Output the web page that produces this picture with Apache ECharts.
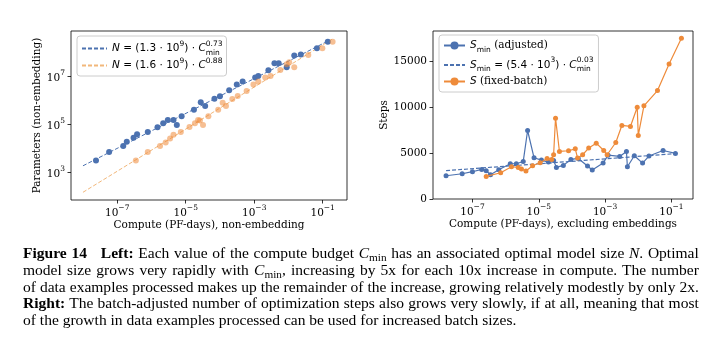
<!DOCTYPE html>
<html><head><meta charset="utf-8">
<script src="https://cdn.jsdelivr.net/npm/echarts@6/dist/echarts.min.js"></script>
<style>
html,body{margin:0;padding:0;background:#fff;}
#chart{position:absolute;left:0;top:0;width:712px;height:343px;}
#cap{position:absolute;left:23px;top:245px;width:631px;transform:scaleX(1.071);transform-origin:0 0;font-family:'Liberation Serif','Times New Roman',serif;font-size:14.5px;line-height:16.8px;color:#000;}
#cap .j{text-align:justify;text-align-last:justify;word-spacing:-1.5px;}
#cap sub{font-size:10.5px;vertical-align:-3px;line-height:0;}
#cap .gap{display:inline-block;width:13px;}
</style>
</head><body>
<div id="chart"></div>
<div id="cap">
<div class="j"><b>Figure 14</b><span class="gap"></span><b>Left:</b> Each value of the compute budget <i>C</i><sub>min</sub> has an associated optimal model size <i>N</i>. Optimal</div>
<div class="j">model size grows very rapidly with <i>C</i><sub>min</sub>, increasing by 5x for each 10x increase in compute. The number</div>
<div class="j">of data examples processed makes up the remainder of the increase, growing relatively modestly by only 2x.</div>
<div class="j"><b>Right:</b> The batch-adjusted number of optimization steps also grows very slowly, if at all, meaning that most</div>
<div>of the growth in data examples processed can be used for increased batch sizes.</div>
</div>
<script>
// ---------- Left panel data: compute (PF-days) vs parameters ----------
const leftBlueC = [2.4e-8,5.8e-8,1.5e-7,1.9e-7,3.0e-7,3.8e-7,7.8e-7,1.5e-6,2.2e-6,3.0e-6,4.4e-6,5.5e-6,7.6e-6,1.74e-5,2.75e-5,3.7e-5,6.9e-5,1.0e-4,1.86e-4,3.1e-4,4.6e-4,1.07e-3,1.32e-3,2.6e-3,3.9e-3,5.2e-3,8.9e-3,1.48e-2,2.3e-2,6.8e-2,0.141];
const leftBlueN = [3.1e3,7.1e3,1.26e4,1.9e4,2.8e4,3.9e4,4.8e4,7.6e4,1.12e5,1.55e5,1.55e5,9.5e4,2.2e5,4.1e5,8.5e5,5.9e5,1.2e6,1.5e6,2.7e6,4.7e6,6.3e6,9.1e6,1.07e7,1.86e7,3.6e7,3.6e7,2.45e7,7.6e7,8.5e7,1.55e8,2.9e8];
const leftOrangeC = [3.5e-7,7.8e-7,1.78e-6,2.6e-6,3.5e-6,4.4e-6,7.2e-6,1.29e-5,1.86e-5,2.3e-5,2.6e-5,3.2e-5,4.6e-5,8.9e-5,1.2e-4,1.5e-4,2.3e-4,3.3e-4,6.0e-4,9.5e-4,1.32e-3,2.1e-3,3.0e-3,5.8e-3,8.9e-3,1.05e-2,1.48e-2,3.8e-2,9.8e-2,0.195];
const leftOrangeN = [3.1e3,7.1e3,1.26e4,1.74e4,2.6e4,3.7e4,4.8e4,7.8e4,1.12e5,1.55e5,1.45e5,9.5e4,2.2e5,4.1e5,8.1e5,5.9e5,1.17e6,1.55e6,2.5e6,4.7e6,6.2e6,9.3e6,1.07e7,1.9e7,3.3e7,4.0e7,2.45e7,8.1e7,1.55e8,2.9e8];
// fitted power-law lines (end points)
const leftFitBlueC = [1e-8, 0.15];
const leftFitBlueN = [1.86e3, 3.2e8];
const leftFitOrangeC = [1e-8, 0.2];
const leftFitOrangeN = [1.45e2, 3.9e8];
const leftXTicks = [1e-7, 1e-5, 1e-3, 1e-1];
const leftYTicks = [1e3, 1e5, 1e7];
const leftLegend = ['N = (1.3·10^9)·C_min^0.73', 'N = (1.6·10^9)·C^0.88'];

// ---------- Right panel data: compute vs steps ----------
const rightBlueC = [1.6e-8,4.9e-8,1.0e-7,1.9e-7,2.6e-7,3.5e-7,6.2e-7,1.38e-6,2.1e-6,3.4e-6,4.6e-6,7.2e-6,1.2e-5,1.95e-5,2.8e-5,3.4e-5,5.5e-5,9.3e-5,1.55e-4,2.95e-4,4.1e-4,8.7e-4,1.23e-3,2.75e-3,4.4e-3,4.7e-3,7.6e-3,1.35e-2,2.1e-2,5.6e-2,0.132];
const rightBlueS = [2540,2760,2980,3230,3090,2650,3200,3850,3850,4100,7480,4500,4250,4030,4210,3450,3670,4320,4430,3600,3160,3920,4790,4650,5190,3520,4720,3920,4690,5300,4980];
const rightOrangeC = [2.6e-7,7.1e-7,1.5e-6,2.4e-6,3.0e-6,4.1e-6,6.5e-6,1.1e-5,1.78e-5,2.45e-5,2.8e-5,3.2e-5,4.2e-5,7.9e-5,1.26e-4,1.48e-4,2.1e-4,3.2e-4,5.4e-4,9.1e-4,1.15e-3,2.1e-3,3.2e-3,5.8e-3,9.3e-3,1.0e-2,1.48e-2,3.8e-2,8.5e-2,0.2];
const rightOrangeS = [2470,2870,3520,3450,3270,3050,3630,3960,4430,4320,4830,8830,5190,5270,5480,4470,4830,5560,6100,5300,4830,6170,8030,7920,10020,6940,10170,11840,14750,17540];
const rightFitC = [1.6e-8, 0.132];
const rightFitS = [3100, 4950];
const rightXTicks = [1e-7, 1e-5, 1e-3, 1e-1];
const rightYTicks = [0, 5000, 10000, 15000];
const rightLegend = ['S_min (adjusted)', 'S_min = (5.4·10^3)·C_min^0.03', 'S (fixed-batch)'];

const BLUE = '#4C72B0', ORANGE = '#EE8B3A', LORANGE = '#F2B77A';
const SERIF = "'DejaVu Serif', serif", SANS = "'DejaVu Sans', sans-serif";
const zip = (a, b) => a.map((v, i) => [v, b[i]]);

const powLabel = v => {
  const e = Math.round(Math.log10(v));
  return '{b|10}{s|' + (e < 0 ? '\u2212' + (-e) : e) + '}';
};
const tickRich = {
  b: {fontFamily: SERIF, fontSize: 10.5, color: '#000', verticalAlign: 'bottom', lineHeight: 15},
  s: {fontFamily: SERIF, fontSize: 7.5, color: '#000', verticalAlign: 'top', lineHeight: 15}
};
const LH = 17;
const legRich = {
  m: {fontFamily: SANS, fontSize: 10.5, color: '#000', lineHeight: LH, verticalAlign: 'middle'},
  i: {fontFamily: SANS, fontStyle: 'italic', fontSize: 10.5, color: '#000', lineHeight: LH, verticalAlign: 'middle'},
  t: {fontFamily: SERIF, fontSize: 10.5, color: '#000', lineHeight: LH, verticalAlign: 'middle'},
  sup: {fontFamily: SANS, fontSize: 7.5, color: '#000', lineHeight: LH, verticalAlign: 'top'},
  sub: {fontFamily: SANS, fontSize: 7.5, color: '#000', lineHeight: LH, verticalAlign: 'bottom'},
  subz: {fontFamily: SANS, fontSize: 7.5, color: '#000', lineHeight: LH, verticalAlign: 'bottom', width: 0.1}
};
const legendText = {};
legendText[leftLegend[0]] = '{i|N}{m| = (1.3 \u00b7 10}{sup|9}{m|) \u00b7 }{i|C}{subz|min}{sup|0.73}';
legendText[leftLegend[1]] = '{i|N}{m| = (1.6 \u00b7 10}{sup|9}{m|) \u00b7 }{i|C}{sup|0.88}';
legendText[rightLegend[0]] = '{i|S}{sub|min}{t| (adjusted)}';
legendText[rightLegend[1]] = '{i|S}{sub|min}{m| = (5.4 \u00b7 10}{sup|3}{m|) \u00b7 }{i|C}{subz|min}{sup|0.03}';
legendText[rightLegend[2]] = '{i|S}{t| (fixed-batch)}';

function xAxisCfg(grid, min, max, ticks, name, gap) {
  return {
    type: 'log', logBase: 10, gridIndex: grid, min: min, max: max,
    name: name, nameLocation: 'middle', nameGap: gap,
    nameTextStyle: {fontFamily: SERIF, fontSize: 10.5, color: '#000'},
    axisLine: {show: false},
    axisTick: {show: true, length: 3.5, customValues: ticks, lineStyle: {color: '#000', width: 0.8}},
    axisLabel: {customValues: ticks, formatter: powLabel, rich: tickRich, margin: 4},
    splitLine: {show: false}, minorTick: {show: false}
  };
}
const lineOnly = {opacity: 0};

const chart = echarts.init(document.getElementById('chart'));
chart.setOption({
  animation: false,
  backgroundColor: '#fff',
  grid: [
    {left: 71, top: 31, width: 276, height: 169, show: true, borderColor: '#000', borderWidth: 0.8},
    {left: 433, top: 31, width: 260, height: 168, show: true, borderColor: '#000', borderWidth: 0.8}
  ],
  xAxis: [
    xAxisCfg(0, 4.47e-9, 0.513, leftXTicks, 'Compute (PF-days), non-embedding', 18),
    xAxisCfg(1, 6.46e-9, 0.447, rightXTicks, 'Compute (PF-days), excluding embeddings', 18)
  ],
  yAxis: [
    {
      type: 'log', logBase: 10, gridIndex: 0, min: 69, max: 8.1e8,
      name: 'Parameters (non-embedding)', nameLocation: 'middle', nameGap: 25,
      nameTextStyle: {fontFamily: SERIF, fontSize: 10.5, color: '#000'},
      axisLine: {show: false},
      axisTick: {show: true, length: 3.5, customValues: leftYTicks, lineStyle: {color: '#000', width: 0.8}},
      axisLabel: {customValues: leftYTicks, formatter: powLabel, rich: tickRich, margin: 6},
      splitLine: {show: false}, minorTick: {show: false}
    },
    {
      type: 'value', gridIndex: 1, min: 0, max: 18344,
      name: 'Steps', nameLocation: 'middle', nameGap: 41,
      nameTextStyle: {fontFamily: SERIF, fontSize: 10.5, color: '#000'},
      axisLine: {show: false},
      axisTick: {show: true, length: 3.5, customValues: rightYTicks, lineStyle: {color: '#000', width: 0.8}},
      axisLabel: {customValues: rightYTicks, formatter: v => String(v), fontFamily: SERIF, fontSize: 10.5, color: '#000', margin: 6},
      splitLine: {show: false}
    }
  ],
  legend: [
    {
      data: [{name: leftLegend[0], itemStyle: lineOnly}, {name: leftLegend[1], itemStyle: lineOnly}],
      orient: 'vertical', left: 77, top: 36,
      itemWidth: 25, itemHeight: 10, itemGap: 0,
      padding: [4, 4, 5, 4], borderColor: '#ccc', borderWidth: 1, borderRadius: 3,
      backgroundColor: 'rgba(255,255,255,0.8)',
      formatter: n => legendText[n], textStyle: {rich: legRich}
    },
    {
      data: [rightLegend[0], {name: rightLegend[1], itemStyle: lineOnly}, rightLegend[2]],
      orient: 'vertical', left: 439, top: 35,
      itemWidth: 21, itemHeight: 10, itemGap: 2.5,
      padding: [5, 5, 5, 4], borderColor: '#ccc', borderWidth: 1, borderRadius: 3,
      backgroundColor: 'rgba(255,255,255,0.8)',
      formatter: n => legendText[n], textStyle: {rich: legRich}
    }
  ],
  series: [
    {type: 'line', name: leftLegend[0], xAxisIndex: 0, yAxisIndex: 0, data: zip(leftFitBlueC, leftFitBlueN),
     symbol: 'none', lineStyle: {color: BLUE, width: 1, type: [4, 2]}, itemStyle: {color: BLUE}, z: 3},
    {type: 'line', name: leftLegend[1], xAxisIndex: 0, yAxisIndex: 0, data: zip(leftFitOrangeC, leftFitOrangeN),
     symbol: 'none', lineStyle: {color: LORANGE, width: 1, type: [4, 2]}, itemStyle: {color: LORANGE}, z: 3},
    {type: 'scatter', name: 'blue', xAxisIndex: 0, yAxisIndex: 0, data: zip(leftBlueC, leftBlueN),
     symbolSize: 6, itemStyle: {color: BLUE, opacity: 1}, z: 4},
    {type: 'scatter', name: 'orange', xAxisIndex: 0, yAxisIndex: 0, data: zip(leftOrangeC, leftOrangeN),
     symbolSize: 6, itemStyle: {color: ORANGE, opacity: 0.55}, z: 4},

    {type: 'line', name: rightLegend[0], xAxisIndex: 1, yAxisIndex: 1, data: zip(rightBlueC, rightBlueS),
     symbol: 'circle', symbolSize: 5, showSymbol: true, lineStyle: {color: BLUE, width: 1.2}, itemStyle: {color: BLUE}, z: 4},
    {type: 'line', name: rightLegend[1], xAxisIndex: 1, yAxisIndex: 1, data: zip(rightFitC, rightFitS),
     symbol: 'none', lineStyle: {color: BLUE, width: 1.2, type: [4, 2]}, itemStyle: {color: BLUE}, z: 3},
    {type: 'line', name: rightLegend[2], xAxisIndex: 1, yAxisIndex: 1, data: zip(rightOrangeC, rightOrangeS),
     symbol: 'circle', symbolSize: 5, showSymbol: true, lineStyle: {color: ORANGE, width: 1.2}, itemStyle: {color: ORANGE}, z: 5}
  ]
});
</script>
</body></html>
